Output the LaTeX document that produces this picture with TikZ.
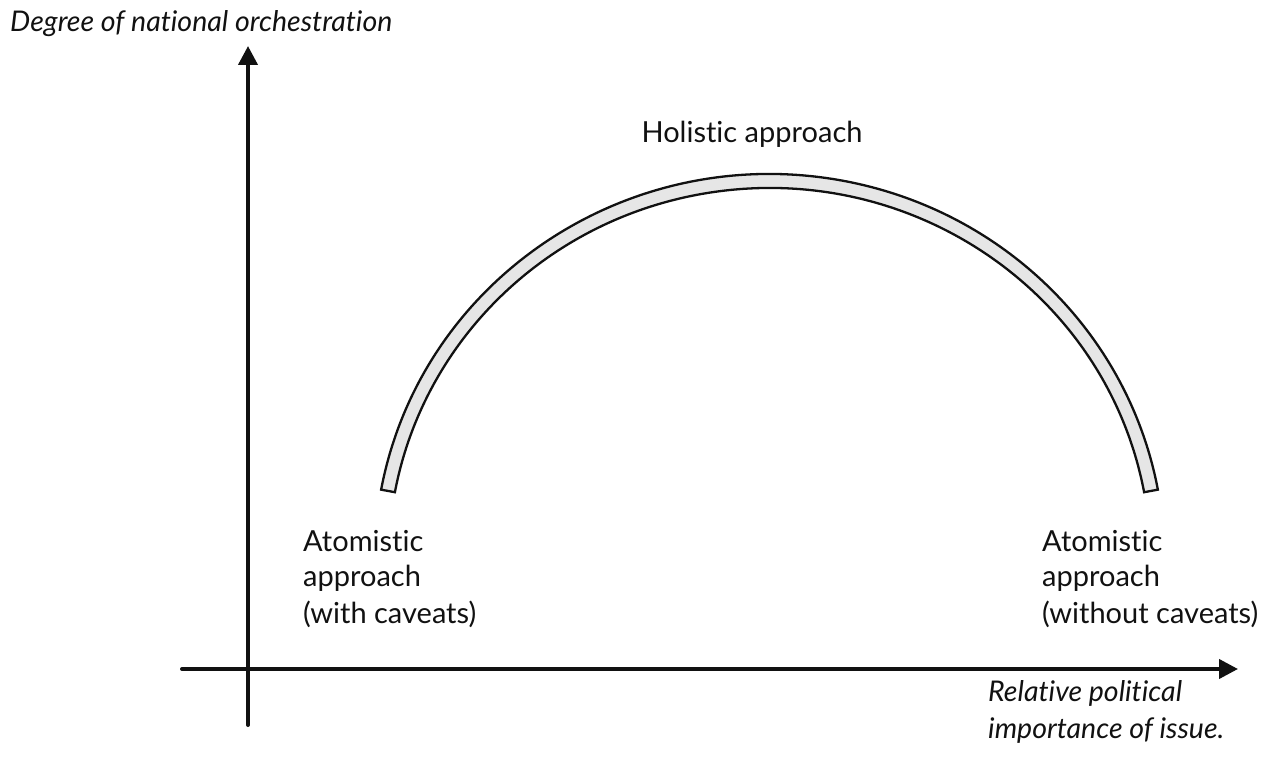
\documentclass[tikz,border=0pt]{standalone}
\usepackage{fontspec}
\setmainfont{Lato}[Ligatures={NoCommon}]
\usetikzlibrary{arrows.meta,calc}
\definecolor{bandfill}{HTML}{E6E6E6}
\definecolor{ink}{HTML}{111111}
\begin{document}
\begin{tikzpicture}[x=1pt,y=1pt,
  axis/.style={line width=4pt, draw=ink, line cap=round, -{Triangle[length=19pt,width=19pt]}},
  label/.style={inner sep=0pt, anchor=base west, align=left, text=ink, font=\fontsize{29}{36}\selectfont},
  slanted/.style={font=\fontsize{28.5}{37}\selectfont\itshape},
  band/.style={draw=ink, line width=2.3pt, fill=bandfill, line join=miter}]
\useasboundingbox (0,0) rectangle (1262,772);
% axes
\coordinate (ytail) at (248,47);
\coordinate (ytip) at (248,726);
\coordinate (xtail) at (182,103);
\coordinate (xtip) at (1238,103);
\draw[axis] (ytail) -- (ytip);
\draw[axis] (xtail) -- (xtip);
% the arch, as a closed band between two elliptic arcs
\coordinate (c) at (769.5,212);
\draw[band] ($(c)+(169.5:395pt and 386pt)$)
  arc[start angle=169.5, end angle=10.5, x radius=395pt, y radius=386pt]
  -- ($(c)+(10.5:381pt and 372pt)$)
  arc[start angle=10.5, end angle=169.5, x radius=381pt, y radius=372pt]
  -- cycle;
% labels (base anchor of a multi-line node sits on its last line)
\node[label, slanted] (ylabel) at (10,740) {Degree of national orchestration};
\node[label, anchor=base] (holistic) at (752,629) {Holistic approach};
\node[label] (atomleft) at (303,149) {Atomistic\\approach\\(with caveats)};
\node[label] (atomright) at (1042,149) {Atomistic\\approach\\(without caveats)};
\node[label, slanted] (xlabel) at (988,34) {Relative political\\importance of issue.};
\end{tikzpicture}
\end{document}
